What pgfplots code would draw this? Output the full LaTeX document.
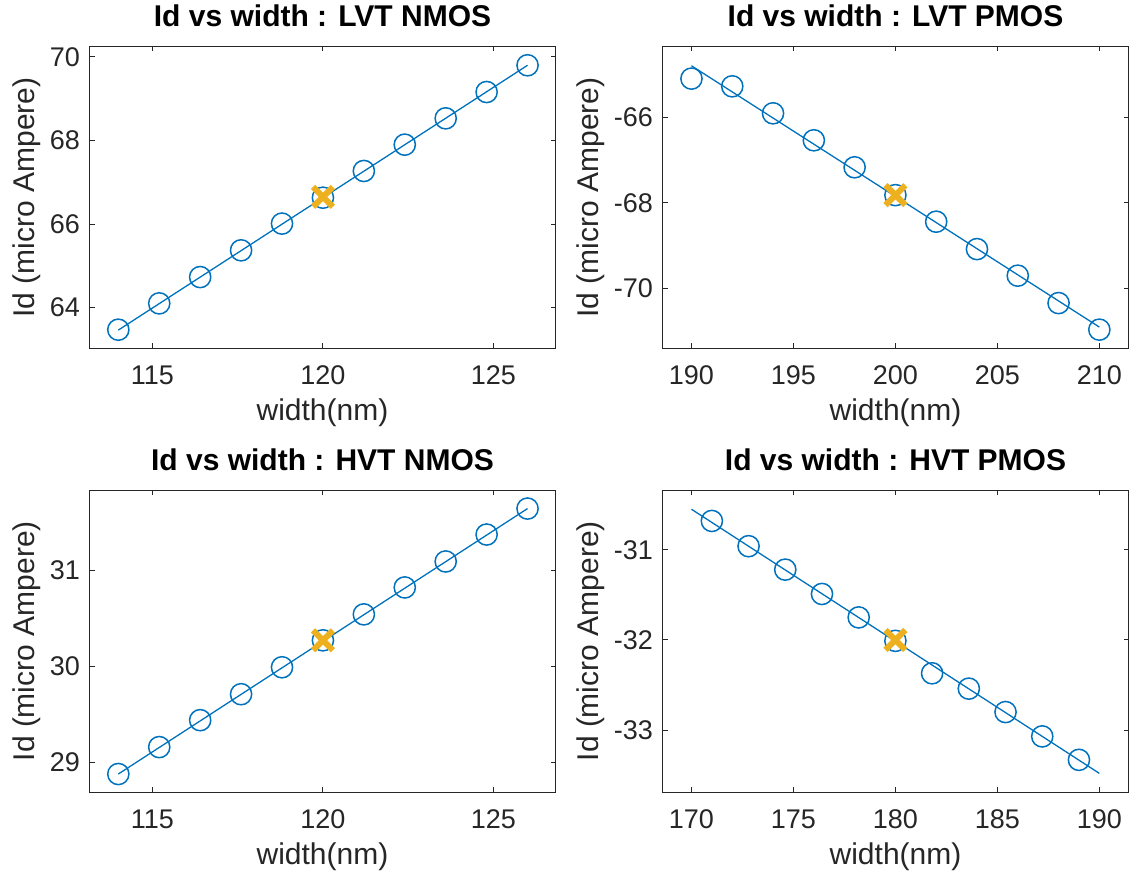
\documentclass[border=0pt]{standalone}
\usepackage{pgfplots}
\pgfplotsset{compat=1.18}
\usepackage{fontspec}
\setmainfont{Liberation Sans}
\definecolor{mblue}{RGB}{0,114,189}
\definecolor{morange}{RGB}{237,177,32}
\definecolor{maxis}{RGB}{38,38,38}
\pgfplotsset{
  mstyle/.style={
    scale only axis, width=466pt, height=302pt,
    axis line style={maxis, line width=0.9pt},
    tick style={maxis, line width=0.9pt},
    major tick length=5pt,
    tick align=inside,
    ticklabel style={font=\fontsize{27}{32}\selectfont, text=maxis},
    xticklabel style={anchor=base, inner sep=0pt, yshift=-36pt},
    yticklabel style={anchor=east, inner sep=0pt, xshift=-9.5pt},
    label style={font=\fontsize{30}{36}\selectfont, text=maxis, inner sep=0pt},
    xlabel style={at={(axis description cs:0.5,0)}, anchor=base, yshift=-72pt},
    title style={at={(axis description cs:0.5,1)}, anchor=base, yshift=14pt,
      font=\bfseries\fontsize{30}{36}\selectfont, inner sep=0pt, text=black},
    xlabel={width(nm)},
    ylabel={Id (micro Ampere)},
  },
  fitline/.style={mblue, line width=1.3pt, no marks},
  circ/.style={only marks, mark=o, mark size=10.6pt, mark options={mblue, line width=1.5pt}},
  cross/.style={only marks, mark=x, mark size=14pt, mark options={morange, line width=6pt}},
}
\begin{document}
\begin{tikzpicture}
\useasboundingbox (0pt,0pt) rectangle (1132pt,875pt);
% ---------- LVT NMOS ----------
\begin{axis}[mstyle, at={(89.5pt,526.5pt)}, anchor=south west,
  title={Id vs width : LVT NMOS},
  xmin=113.155, xmax=126.82, ymin=63.02, ymax=70.25,
  xtick={115,120,125}, ytick={64,66,68,70},
  xticklabels={115,120,125}, yticklabels={64,66,68,70},
  ylabel style={at={(axis description cs:-0.1176,0.5)}, anchor=base}]
\addplot[fitline] coordinates {(114,63.46) (126,69.80)};
\addplot[circ] coordinates {(114,63.47) (115.2,64.10) (116.4,64.73) (117.6,65.37) (118.8,66.01) (120,66.63) (121.2,67.27) (122.4,67.90) (123.6,68.53) (124.8,69.16) (126,69.80)};
\addplot[cross] coordinates {(120,66.65)};
\end{axis}
% ---------- LVT PMOS ----------
\begin{axis}[mstyle, at={(662.5pt,526.5pt)}, anchor=south west,
  title={Id vs width : LVT PMOS},
  xmin=188.58, xmax=211.43, ymin=-71.40, ymax=-64.35,
  xtick={190,195,200,205,210}, ytick={-70,-68,-66},
  xticklabels={190,195,200,205,210}, yticklabels={-70,-68,-66},
  ylabel style={at={(axis description cs:-0.1382,0.5)}, anchor=base}]
\addplot[fitline] coordinates {(190,-64.80) (210,-70.90)};
\addplot[circ] coordinates {(190,-65.10) (192,-65.28) (194,-65.91) (196,-66.54) (198,-67.17) (200,-67.82) (202,-68.44) (204,-69.08) (206,-69.70) (208,-70.34) (210,-70.96)};
\addplot[cross] coordinates {(200,-67.82)};
\end{axis}
% ---------- HVT NMOS ----------
\begin{axis}[mstyle, at={(89.5pt,82.7pt)}, anchor=south west,
  title={Id vs width : HVT NMOS},
  xmin=113.155, xmax=126.82, ymin=28.69, ymax=31.83,
  xtick={115,120,125}, ytick={29,30,31},
  xticklabels={115,120,125}, yticklabels={29,30,31},
  ylabel style={at={(axis description cs:-0.1176,0.5)}, anchor=base}]
\addplot[fitline] coordinates {(114,28.88) (126,31.64)};
\addplot[circ] coordinates {(114,28.88) (115.2,29.16) (116.4,29.44) (117.6,29.71) (118.8,29.99) (120,30.27) (121.2,30.54) (122.4,30.82) (123.6,31.09) (124.8,31.37) (126,31.64)};
\addplot[cross] coordinates {(120,30.27)};
\end{axis}
% ---------- HVT PMOS ----------
\begin{axis}[mstyle, at={(662.5pt,82.7pt)}, anchor=south west,
  title={Id vs width : HVT PMOS},
  xmin=168.58, xmax=191.43, ymin=-33.69, ymax=-30.34,
  xtick={170,175,180,185,190}, ytick={-33,-32,-31},
  xticklabels={170,175,180,185,190}, yticklabels={-33,-32,-31},
  ylabel style={at={(axis description cs:-0.1382,0.5)}, anchor=base}]
\addplot[fitline] coordinates {(170,-30.55) (190,-33.48)};
\addplot[circ] coordinates {(171,-30.68) (172.8,-30.96) (174.6,-31.22) (176.4,-31.49) (178.2,-31.75) (180,-32.01) (181.8,-32.37) (183.6,-32.54) (185.4,-32.80) (187.2,-33.07) (189,-33.33)};
\addplot[cross] coordinates {(180,-32.00)};
\end{axis}
\end{tikzpicture}
\end{document}
